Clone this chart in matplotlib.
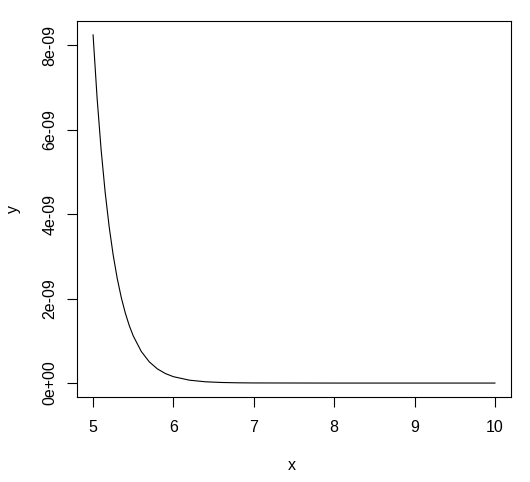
import matplotlib
matplotlib.use("Agg")
import matplotlib.pyplot as plt

plt.rcParams['font.family'] = ['Liberation Sans', 'DejaVu Sans']

# values (y in units of 1e-09)
x = [5.0, 5.05, 5.1, 5.15, 5.2, 5.25, 5.3, 5.35, 5.4, 5.45, 5.5, 5.6, 5.7,
     5.8, 5.9, 6.0, 6.2, 6.4, 6.6, 6.8, 7.0, 8.0, 9.0, 10.0]
y = [8.245, 6.750, 5.527, 4.525, 3.704, 3.033, 2.483, 2.033, 1.665, 1.363,
     1.116, 0.748, 0.501, 0.336, 0.225, 0.151, 0.068, 0.030, 0.0137, 0.0062,
     0.0028, 0.0, 0.0, 0.0]
xticks = [5, 6, 7, 8, 9, 10]
yticks = [0, 2, 4, 6, 8]
ylabels = ['0e+00', '2e-09', '4e-09', '6e-09', '8e-09']

fig = plt.figure(figsize=(5.3, 4.82), dpi=100)
ax = fig.add_axes([77/530, 1 - 397/482, 434/530, 376/482])

ax.plot(x, y, color='black', lw=0.8)
ax.set_xlim(4.8, 10.2)
ax.set_ylim(-0.33, 8.574)

ax.set_xticks(xticks)
ax.set_xticklabels([str(t) for t in xticks])
ax.set_yticks(yticks)
ax.set_yticklabels(ylabels, rotation=90, va='center')
ax.tick_params(length=7, width=0.8, labelsize=11.5)
ax.tick_params(axis='x', pad=9.5)
ax.tick_params(axis='y', pad=7)

for s in ax.spines.values():
    s.set_linewidth(0.8)

# axis titles placed like R's plot()
fig.text(292/530, 1 - 465/482, 'x', fontsize=11.5, ha='center', va='center')
fig.text(13/530, 1 - 209/482, 'y', fontsize=11.5, ha='center', va='center',
         rotation=90)

fig.savefig('out.png', dpi=100)
